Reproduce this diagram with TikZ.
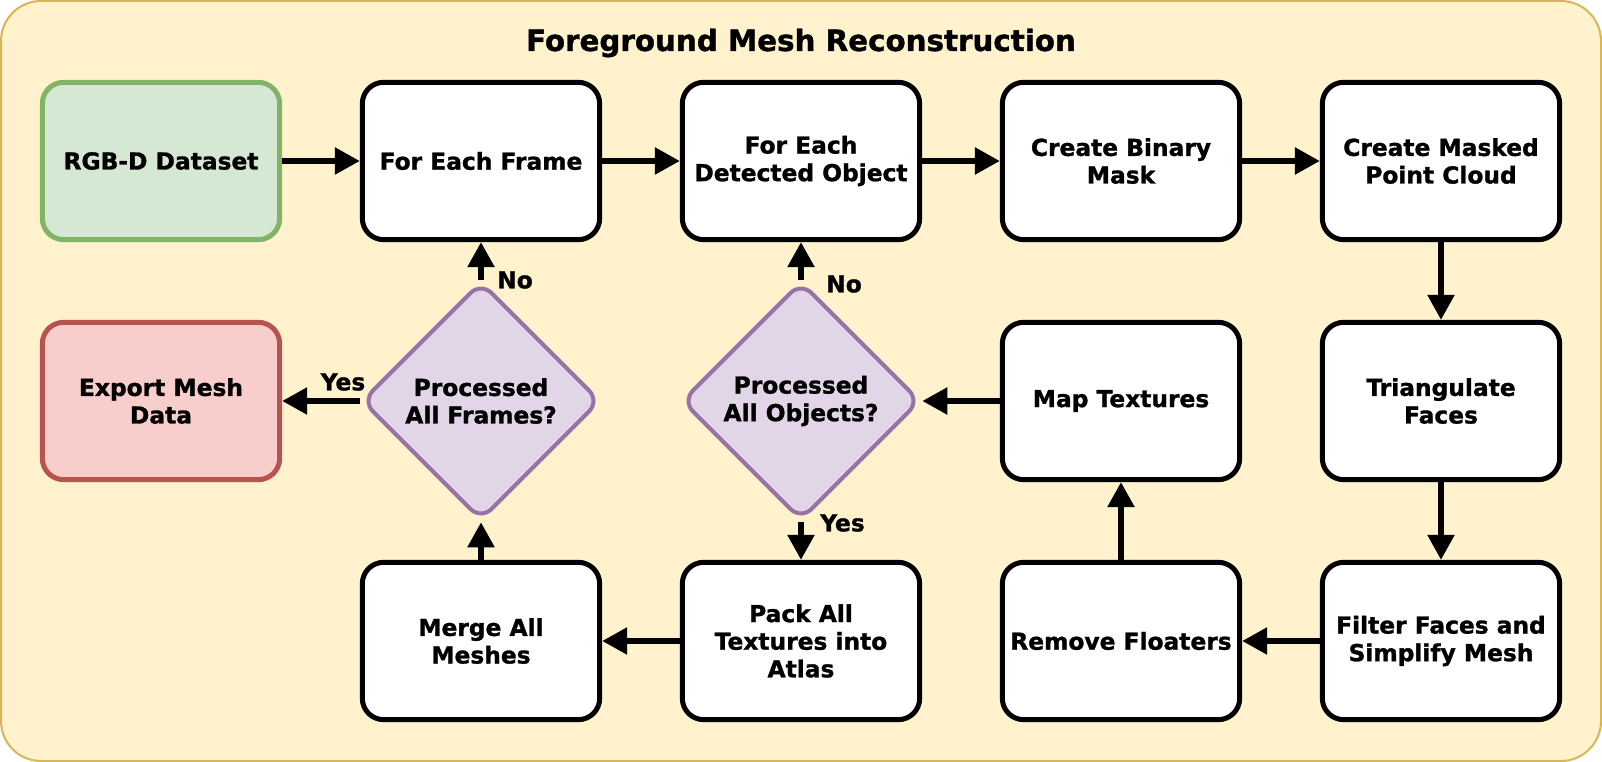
\documentclass[tikz,border=0pt]{standalone}
\usepackage{xcolor}
\usepackage{fontspec}
\setmainfont{DejaVu Sans}[BoldFeatures={FakeBold=1.2}]
\usepackage{tikz}
\usetikzlibrary{arrows.meta,shapes.geometric}

\definecolor{panelfill}{HTML}{FFF2CC}
\definecolor{paneldraw}{HTML}{D6B656}
\definecolor{startfill}{HTML}{D5E8D4}
\definecolor{startdraw}{HTML}{82B366}
\definecolor{endfill}{HTML}{F8CECC}
\definecolor{enddraw}{HTML}{B85450}
\definecolor{testfill}{HTML}{E1D5E7}
\definecolor{testdraw}{HTML}{9673A6}

\begin{document}
\begin{tikzpicture}[x=0.75pt,y=0.75pt,yscale=-1,xscale=1,
        boxtxt/.style={font=\fontsize{17.5}{20.7}\selectfont\bfseries, align=center},
        stepbox/.style={boxtxt, draw=black, fill=white, line width=3.75pt, rounded corners=16pt, minimum width=178pt, minimum height=118pt, inner sep=2pt},
        testbox/.style={boxtxt, diamond, draw=testdraw, fill=testfill, line width=3pt, rounded corners=11pt, minimum width=179pt, minimum height=179pt, inner sep=0pt},
        flow/.style={line width=4.2pt, -{Triangle[length=18.75pt,width=19.5pt]}},
        lbl/.style={font=\fontsize{17.5}{20}\selectfont\bfseries, inner sep=0pt}]
        \useasboundingbox (0,0) rectangle (1602,762);
        \draw [draw=paneldraw, fill=panelfill, line width=1.5pt, rounded corners=30pt] (1,1) rectangle (1601,761);

        \node [font=\fontsize{22}{26}\selectfont\bfseries] (title) at (801,43) {Foreground Mesh Reconstruction};

        % top row
        \node [stepbox, fill=startfill, draw=startdraw] (rgbd) at (161,161) {RGB-D Dataset};
        \node [stepbox] (frame) at (481,161) {For Each Frame};
        \node [stepbox] (object) at (801,161) {For Each\\Detected Object};
        \node [stepbox] (binmask) at (1121,161) {Create Binary\\Mask};
        \node [stepbox] (pcloud) at (1441,161) {Create Masked\\Point Cloud};
        % middle row
        \node [stepbox, fill=endfill, draw=enddraw] (export) at (161,401) {Export Mesh\\Data};
        \node [testbox] (allframes) at (481,401) {Processed\\All Frames?};
        \node [testbox] (allobjects) at (801,401) {Processed\\All Objects?};
        \node [stepbox] (maptex) at (1121,401) {Map Textures};
        \node [stepbox] (triang) at (1441,401) {Triangulate\\Faces};
        % bottom row
        \node [stepbox] (merge) at (481,641) {Merge All\\Meshes};
        \node [stepbox] (atlas) at (801,641) {Pack All\\Textures into\\Atlas};
        \node [stepbox] (floaters) at (1121,641) {Remove Floaters};
        \node [stepbox] (filter) at (1441,641) {Filter Faces and\\Simplify Mesh};

        \draw [flow] (rgbd) -- (frame);
        \draw [flow] (frame) -- (object);
        \draw [flow] (object) -- (binmask);
        \draw [flow] (binmask) -- (pcloud);
        \draw [flow] (pcloud) -- (triang);
        \draw [flow] (triang) -- (filter);
        \draw [flow] (filter) -- (floaters);
        \draw [flow] (floaters) -- (maptex);
        \draw [flow] (maptex) -- (allobjects);
        \draw [flow] (allobjects) -- (object);
        \draw [flow] (allobjects) -- (atlas);
        \draw [flow] (atlas) -- (merge);
        \draw [flow] (merge) -- (allframes);
        \draw [flow] (allframes) -- (frame);
        \draw [flow] (allframes) -- (export);

        \node [lbl, anchor=west] (noframes) at (497,280) {No};
        \node [lbl, anchor=west] (noobjects) at (826,284) {No};
        \node [lbl, anchor=west] (yesobjects) at (820,523) {Yes};
        \node [lbl] (yesframes) at (343,382) {Yes};

\end{tikzpicture}
\end{document}
